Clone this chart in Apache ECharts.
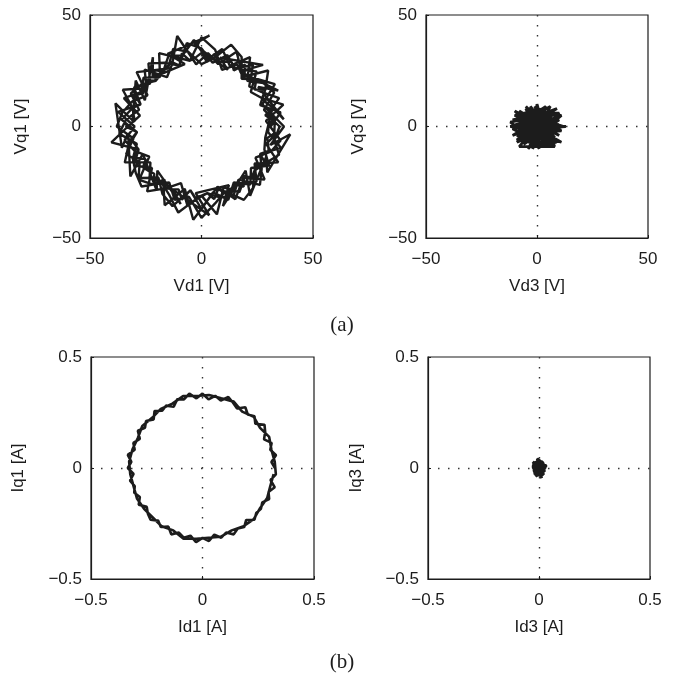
<!DOCTYPE html>
<html>
<head>
<meta charset="utf-8">
<script src="https://cdn.jsdelivr.net/npm/echarts@6/dist/echarts.min.js"></script>
<style>html,body{margin:0;padding:0;background:#fff;}#c{width:674px;height:676px;}</style>
</head>
<body>
<div id="c"></div>
<script>
// ---- tick labels ----
const vTicks = [-50, 0, 50];
const iTicks = [-0.5, 0, 0.5];
const axisNames = { vd1: 'Vd1 [V]', vq1: 'Vq1 [V]', vd3: 'Vd3 [V]', vq3: 'Vq3 [V]', id1: 'Id1 [A]', iq1: 'Iq1 [A]', id3: 'Id3 [A]', iq3: 'Iq3 [A]' };
const panelLabels = ['(a)', '(b)'];

// ---- (a) fundamental voltage trajectory ----
const vd1 = [
  31,35.5,26.3,28.6,29.9,18.6,16,9.2,6.1,0,-5.2,-11.3,-19,-18.6,-26,-26.8,-34.8,-27.6,-33,-40.4,-28.2,-30.3,-22.2,-24.4,-16,-9.2,-6.3,0,6.9,9.9,17,19.3,28.3,24.2,31,35.5,
  28.9,36.7,27.2,22.1,24.7,17.8,15.7,7.5,2.9,-2.4,-10.9,-13.1,-15.5,-25.5,-24.6,-35.3,-30.9,-35.9,-28.9,-32.8,-34.4,-22.9,-23.3,-17.2,-16.5,-7.5,-3.7,2.9,7.2,15.2,17.8,24.7,23.8,34.4,29,33.9,
  35,29.5,34.8,26.8,21.4,23.1,15,11.6,5,0,-6.6,-9.9,-16.5,-23.8,-23,-30.3,-27.3,-37.4,-30,-34.5,-30.1,-23.4,-27.6,-19.3,-17.5,-13,-5,0,5.2,12,14.5,21.9,22.2,30.3,28.2,28.6,
  31.9,36.9,25.4,34.4,17.2,27.6,8.3,11.8,-3.2,3.6,-15.2,-7.5,-21.9,-21.8,-25.4,-29.5,-30.9,-38.6,-35.7,-32.9,-31.9,-26.3,-20.1,-19.8,-9.3,-13.1,3.5,-2.6,12.3,9.6,19.8,21.8,29,29.5,39.8,30.9,
  37,31.5,27.3,32.9,25.3,18,18,13.3,5.4,0,-5.9,-12.7,-15,-21.2,-29.1,-24.2,-31,-35.5,-38,-30.5,-33.8,-27.7,-28.3,-21.9,-14.5,-12,-5.6,0,6.1,10.6,19,23.1,23.7,28.6,34.8,32.5,
  32.9,28,32.6,27.8,20.5,21.8,12.7,9.3,2.6,-3.4,-8.5,-14.8,-17.2,-20.5,-27,-31.7,-28,-33.9,-36.9,-29,-30.8,-29.5,-26.9,-17.8,-14.4,-10.4,-2.9,2.6,8.5,14.4,16.6,26.2,27,26.3,35.7,29.9,
  30,31.9,28.6,31.9,29.1,27.2,28.6,23.8,24.5,21.9,19.3,19.5,14.5,13.5,10.6,7.8,5.7,2.5,0,-2.7,-5.2,-8.8,-9.9,-13.5,-15.5,-17.2,-21.2,-20.5,-24.5,-25.4,-26,-29.9,-27.3,-30.9,-30.5,-29.9,
  -34,-28.9,-31.5,-29.9,-28.2,-29.9,-25.1,-26.2,-23.7,-21.2,-21.2,-16.6,-16,-13.1,-10.3,-8.8,-5,-2.8,0,2.6,5.7,7.5,10.9,13.1,15,18.9,18.6,22.6,23.7,24.6,28.6,26.3,30.1,29.9,29.5,32.9
];
const vq1 = [
  0,6.3,9.6,16.5,25.1,22.2,27.7,25.4,34.5,40,29.5,31,32.9,22.2,21.9,15.5,12.7,4.9,0,-7.1,-10.3,-17.5,-18.6,-29.1,-27.7,-25.4,-35.5,-31,-39.4,-27.3,-29.4,-23,-23.8,-14,-11.3,-6.3,
  2.5,9.8,12.7,15.5,24.7,25.4,33.5,28,32.9,27.9,40.6,28.1,22.1,25.5,17.2,16.5,8.3,3.1,-2.5,-8.8,-16.1,-16.1,-23.3,-24.6,-35.3,-28,-41.8,-32.9,-27,-32.6,-25.4,-24.7,-16.6,-16.1,-7.8,-3,
  0,5.2,12.7,15.5,18,27.6,26,32,28.6,35,37.4,27.3,28.6,28.3,19.3,17.5,9.9,6.6,0,-6.1,-10.9,-13.5,-23.1,-23,-30.3,-35.7,-28.6,-37,-29.5,-32.9,-25.1,-26,-18.6,-17.5,-10.3,-5,
  8.5,3.2,17.8,16.1,24.6,27.6,30.9,25.4,36.9,40.8,32.6,28,21.9,31.1,11.8,20.6,2.7,10.4,-9.6,-2.9,-22.4,-12.3,-28.7,-19.8,-34.8,-28.1,-39.8,-29.9,-26.3,-35.7,-19.8,-31.1,-13.5,-20.6,-3.5,-8.3,
  0,5.6,9.9,19,21.2,21.4,31.2,36.7,30.5,28,33.5,34.8,26,25.3,24.4,14,11.3,6.3,0,-5.4,-12.3,-16,-23.8,-26,-25.1,-32.9,-31.5,-41,-34.5,-29.1,-32.9,-27.6,-19.9,-16.5,-12.7,-5.7,
  2.9,7.5,15.2,19.5,20.5,31.1,27.2,34.8,29.9,38.8,31.9,31.7,24.6,20.5,18.9,14.8,7.5,3,-3.2,-7.8,-14.4,-20.7,-26.9,-25.4,-30.8,-38.6,-32.9,-29.9,-31.9,-30.8,-23.8,-26.2,-18.9,-12.3,-9.6,-2.6,
  0,2.8,5,8.5,10.6,12.7,16.5,16.6,20.6,21.9,23,27.8,25.1,29,29.1,29,32.5,28.9,33,30.9,29.5,32.8,27.3,29,26.8,24.6,25.3,20.5,20.6,17.8,15,14,9.9,8.3,5.4,2.6,
  0,-2.5,-5.6,-8,-10.3,-14,-14.5,-18.4,-19.9,-21.2,-25.3,-23.8,-27.7,-28.1,-28.2,-32.8,-28.6,-31.9,-31,-29.9,-32.5,-28,-30.1,-28.1,-26,-27,-22.2,-22.6,-19.9,-17.2,-16.5,-12.3,-10.9,-8,-5.2,-2.9
];

// ---- (a) third-harmonic voltage trajectory ----
const vd3 = [-9,8,-3,4,-11,10,-6,7,-2,3,-10,9,-4,6,-8,11,-5,2,-12,8,-7,5,0,-1,-9,12,-6,7,-3,4,-10,9,-5,6,-2,3,-8,10,-4,5,-7,13,-6,1,-3,8,-9,2,-11,7,-4,6,-8,4,-1,9,-5,3,-7,11,-2,0,
  -6,4,-9,10,-3,7,-10,6,-2,9,-11,3,-5,8,-8,2,-1,11,-7,5,-12,4,-4,10,0,-3];
const vq3 = [4,-5,9,-9,-1,3,-8,7,-10,8,5,-7,-7,5,-3,-2,8,-9,2,6,-6,-8,10,-8,-4,0,6,-6,-9,9,0,4,-5,-4,7,-7,7,-4,3,2,-1,0,2,-10,5,-8,-6,6,3,1,-10,9,1,-4,9,-1,-3,4,5,5,-6,0,
  -2,7,-7,1,-6,-3,7,-9,4,8,-4,1,9,-9,-9,3,-4,-7,3,6,0,-2,6,6,-6,2];

// ---- (b) fundamental current trajectory ----
const id1 = [
  0.325,0.309,0.330,0.304,0.310,0.276,0.281,0.278,0.237,0.233,0.203,0.192,0.155,0.137,0.116,0.082,0.057,0.027,0,-0.027,-0.059,-0.083,-0.113,-0.129,-0.163,-0.181,-0.215,-0.219,-0.253,-0.258,-0.290,-0.281,-0.310,-0.304,-0.335,-0.319,
  -0.335,-0.309,-0.325,-0.304,-0.306,-0.281,-0.286,-0.250,-0.245,-0.233,-0.199,-0.187,-0.153,-0.140,-0.106,-0.084,-0.054,-0.029,0,0.029,0.053,0.084,0.106,0.140,0.158,0.187,0.196,0.233,0.241,0.262,0.268,0.299,0.296,0.324,0.305,0.329,
  0.324,0.309,0.299,0.258,0.230,0.178,0.140,0.084,0.029,-0.028,-0.087,-0.135,-0.187,-0.226,-0.270,-0.290,-0.314,-0.329,
  -0.324,-0.309,-0.294,-0.262,-0.223,-0.184,-0.131,-0.085,-0.028,0.027,0.083,0.131,0.184,0.230,0.258,0.290,0.304,0.319
];
const iq1 = [
  0,0.027,0.058,0.082,0.113,0.129,0.163,0.195,0.199,0.233,0.241,0.274,0.268,0.294,0.320,0.304,0.325,0.309,0.335,0.314,0.335,0.309,0.310,0.276,0.281,0.258,0.257,0.219,0.212,0.181,0.168,0.131,0.113,0.082,0.059,0.028,
  0,-0.027,-0.057,-0.082,-0.111,-0.131,-0.165,-0.175,-0.206,-0.233,-0.237,-0.266,-0.264,-0.299,-0.291,-0.314,-0.305,-0.334,-0.315,-0.329,-0.300,-0.314,-0.291,-0.299,-0.273,-0.266,-0.234,-0.233,-0.203,-0.184,-0.155,-0.140,-0.108,-0.087,-0.054,-0.029,
  0.028,0.083,0.140,0.181,0.230,0.254,0.299,0.314,0.329,0.324,0.324,0.290,0.266,0.226,0.189,0.135,0.084,0.029,
  -0.028,-0.083,-0.137,-0.184,-0.223,-0.262,-0.281,-0.319,-0.319,-0.314,-0.309,-0.281,-0.262,-0.230,-0.181,-0.135,-0.082,-0.028
];

// ---- (b) third-harmonic current trajectory ----
const id3 = [-0.022,0.027,-0.015,0.018,-0.030,0.022,-0.008,0.012,-0.027,0.030,-0.018,0.008,-0.024,0.021,0,-0.012,0.015,-0.030,0.033,0.003,-0.015,0.018,-0.021,0.009,-0.006,0.024,-0.018,0.006,0];
const iq3 = [0.015,-0.012,-0.037,0.030,-0.003,0.018,0.042,-0.045,0.027,0.003,-0.027,0.033,-0.015,-0.030,0.022,0.008,-0.018,0.012,0.012,-0.037,0.030,0.008,-0.030,0.021,-0.012,-0.006,0.021,-0.024,0];

const pairs = (xs, ys) => xs.map((x, i) => [x, ys[i]]);

const ink = '#1c1c1c';
const font = 'Liberation Sans, Arial, Helvetica, sans-serif';
const fmt = v => String(v).replace('-', '\u2212');
const split = { show: true, showMinLine: false, showMaxLine: false, lineStyle: { color: '#333', width: 1.4, type: [1.5, 8.5] } };

function xAx(gi, ticks, name) {
  return {
    type: 'value', gridIndex: gi, min: ticks[0], max: ticks[2], interval: ticks[2],
    name: name, nameLocation: 'middle', nameGap: 40,
    nameTextStyle: { fontFamily: font, fontSize: 17, color: ink },
    axisLine: { show: true, onZero: false, lineStyle: { color: ink, width: 1.2 } },
    axisTick: { show: true, inside: true, length: 3, lineStyle: { color: ink } },
    axisLabel: { fontFamily: font, fontSize: 17, color: ink, margin: 13, formatter: fmt },
    splitLine: split
  };
}
function yAx(gi, ticks, name, gap) {
  return {
    type: 'value', gridIndex: gi, min: ticks[0], max: ticks[2], interval: ticks[2],
    name: name, nameLocation: 'middle', nameGap: gap,
    nameTextStyle: { fontFamily: font, fontSize: 17, color: ink },
    axisLine: { show: true, onZero: false, lineStyle: { color: ink, width: 1.2 } },
    axisTick: { show: true, inside: true, length: 3, lineStyle: { color: ink } },
    axisLabel: { fontFamily: font, fontSize: 17, color: ink, margin: 9, formatter: fmt },
    splitLine: split
  };
}
function ser(gi, data, w) {
  return {
    type: 'line', xAxisIndex: gi, yAxisIndex: gi, data: data, showSymbol: false,
    symbol: 'none', smooth: false,
    lineStyle: { color: ink, width: w }, z: 3
  };
}
const gridStyle = { show: true, borderColor: ink, borderWidth: 1.2, backgroundColor: 'transparent' };

const chart = echarts.init(document.getElementById('c'), null, { renderer: 'canvas' });
chart.setOption({
  animation: false,
  backgroundColor: '#fff',
  title: [
    { text: panelLabels[0], left: 337, top: 310, textAlign: 'center', textStyle: { fontFamily: 'Liberation Serif, Times New Roman, serif', fontSize: 21, fontWeight: 'normal', color: ink } },
    { text: panelLabels[1], left: 337, top: 647, textAlign: 'center', textStyle: { fontFamily: 'Liberation Serif, Times New Roman, serif', fontSize: 21, fontWeight: 'normal', color: ink } }
  ],
  grid: [
    Object.assign({ left: 90, top: 15, width: 223, height: 223 }, gridStyle),
    Object.assign({ left: 426, top: 15, width: 222, height: 223 }, gridStyle),
    Object.assign({ left: 91, top: 357, width: 223, height: 222 }, gridStyle),
    Object.assign({ left: 428, top: 357, width: 222, height: 222 }, gridStyle)
  ],
  xAxis: [
    xAx(0, vTicks, axisNames.vd1), xAx(1, vTicks, axisNames.vd3),
    xAx(2, iTicks, axisNames.id1), xAx(3, iTicks, axisNames.id3)
  ],
  yAxis: [
    yAx(0, vTicks, axisNames.vq1, 60), yAx(1, vTicks, axisNames.vq3, 59),
    yAx(2, iTicks, axisNames.iq1, 64), yAx(3, iTicks, axisNames.iq3, 63)
  ],
  series: [
    ser(0, pairs(vd1, vq1), 2.4),
    ser(1, pairs(vd3, vq3), 2.8),
    ser(2, pairs(id1, iq1), 2.6),
    ser(3, pairs(id3, iq3), 2.8)
  ]
});
</script>
</body>
</html>
